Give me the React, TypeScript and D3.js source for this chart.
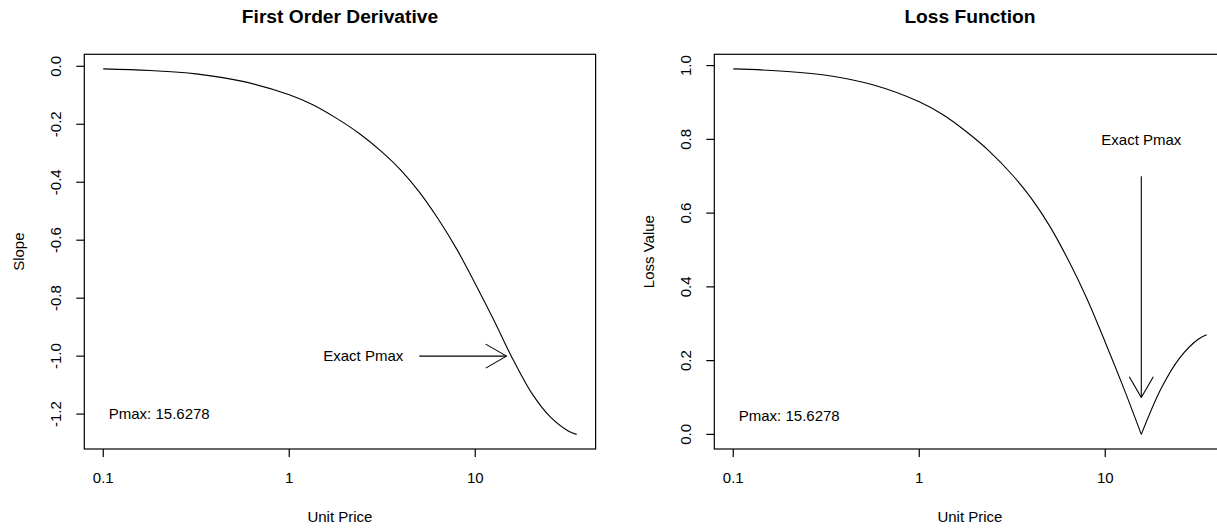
import React from "react";
import * as d3 from "d3";

// ---- data ----
const price = [0.1, 0.178, 0.316, 0.562, 1, 1.33, 1.78, 2.37, 3.16, 3.98, 5.01, 6.31, 7.94, 10, 12.6, 15.6278, 20, 25.1, 31.6, 35.1];
const slope = [-0.009, -0.0145, -0.026, -0.052, -0.098, -0.132, -0.178, -0.231, -0.296, -0.358, -0.434, -0.526, -0.63, -0.75, -0.876, -1.0, -1.125, -1.207, -1.258, -1.27];
const loss = [0.991, 0.9855, 0.974, 0.948, 0.902, 0.868, 0.822, 0.769, 0.704, 0.642, 0.566, 0.474, 0.37, 0.25, 0.124, 0.0, 0.125, 0.207, 0.258, 0.27];
const pmax = 15.6278;
const xTicks = [0.1, 1, 10];
const xTickLabels = ["0.1", "1", "10"];
const slopeTicks = [0, -0.2, -0.4, -0.6, -0.8, -1.0, -1.2];
const lossTicks = [0, 0.2, 0.4, 0.6, 0.8, 1.0];

const W = 1217;
const H = 529;
const FONT = "'Liberation Sans', Arial, sans-serif";

function extendLinear(lo: number, hi: number): [number, number] {
  const d = (hi - lo) * 0.04;
  return [lo - d, hi + d];
}
function extendLog(lo: number, hi: number): [number, number] {
  const a = Math.log10(lo), b = Math.log10(hi);
  const d = (b - a) * 0.04;
  return [Math.pow(10, a - d), Math.pow(10, b + d)];
}

type PanelProps = {
  x0: number;
  x1: number;
  title: string;
  yLabel: string;
  yValues: number[];
  yTicks: number[];
  yFmt: (v: number) => string;
  splitAtPmax: boolean;
  arrow: { from: [number, number]; to: [number, number] };
  arrowText: [number, number];
  pmaxText: [number, number];
};

const TOP = 54.3;
const BOTTOM = 449;

function Panel(p: PanelProps) {
  const x = d3.scaleLog().domain(extendLog(d3.min(price)!, d3.max(price)!)).range([p.x0, p.x1]);
  const y = d3
    .scaleLinear()
    .domain(extendLinear(d3.min(p.yValues)!, d3.max(p.yValues)!))
    .range([BOTTOM, TOP]);
  const pts: [number, number][] = price.map((v, i) => [x(v), y(p.yValues[i])]);
  const line = d3.line().curve(d3.curveCatmullRom.alpha(0.5));
  let paths: string[];
  if (p.splitAtPmax) {
    const k = price.indexOf(pmax);
    paths = [line(pts.slice(0, k + 1))!, line(pts.slice(k))!];
  } else {
    paths = [line(pts)!];
  }
  const ax = x(p.arrow.from[0]), ay = y(p.arrow.from[1]);
  const bx = x(p.arrow.to[0]), by = y(p.arrow.to[1]);
  const ang = Math.atan2(by - ay, bx - ax);
  const hl = 24;
  const h1 = [bx - hl * Math.cos(ang - Math.PI / 6), by - hl * Math.sin(ang - Math.PI / 6)];
  const h2 = [bx - hl * Math.cos(ang + Math.PI / 6), by - hl * Math.sin(ang + Math.PI / 6)];
  const midX = (p.x0 + p.x1) / 2;
  const midY = (TOP + BOTTOM) / 2;
  return (
    <g fontFamily={FONT} fill="#000">
      <text x={midX} y={16} dy="0.35em" textAnchor="middle" fontWeight="bold" fontSize={19.2}>
        {p.title}
      </text>
      <rect x={p.x0} y={TOP} width={p.x1 - p.x0} height={BOTTOM - TOP} fill="none" stroke="#000" strokeWidth={1.2} />
      {xTicks.map((t, i) => (
        <g key={"x" + i}>
          <line x1={x(t)} x2={x(t)} y1={BOTTOM} y2={BOTTOM + 8} stroke="#000" strokeWidth={1.2} />
          <text x={x(t)} y={478} dy="0.35em" textAnchor="middle" fontSize={15}>
            {xTickLabels[i]}
          </text>
        </g>
      ))}
      {p.yTicks.map((t, i) => (
        <g key={"y" + i}>
          <line x1={p.x0 - 8} x2={p.x0} y1={y(t)} y2={y(t)} stroke="#000" strokeWidth={1.2} />
          <text
            transform={`translate(${p.x0 - 28.5},${y(t)}) rotate(-90)`}
            dy="0.35em"
            textAnchor="middle"
            fontSize={15}
          >
            {p.yFmt(t)}
          </text>
        </g>
      ))}
      <text x={midX} y={516.5} dy="0.35em" textAnchor="middle" fontSize={15}>
        Unit Price
      </text>
      <text transform={`translate(${p.x0 - 66},${midY}) rotate(-90)`} dy="0.35em" textAnchor="middle" fontSize={15}>
        {p.yLabel}
      </text>
      {paths.map((d, i) => (
        <path key={"p" + i} d={d} fill="none" stroke="#000" strokeWidth={1.1} />
      ))}
      <line x1={ax} y1={ay} x2={bx} y2={by} stroke="#000" strokeWidth={1.1} />
      <line x1={bx} y1={by} x2={h1[0]} y2={h1[1]} stroke="#000" strokeWidth={1.1} />
      <line x1={bx} y1={by} x2={h2[0]} y2={h2[1]} stroke="#000" strokeWidth={1.1} />
      <text x={x(p.arrowText[0])} y={y(p.arrowText[1])} dy="0.35em" textAnchor="middle" fontSize={15}>
        Exact Pmax
      </text>
      <text x={x(p.pmaxText[0])} y={y(p.pmaxText[1])} dy="0.35em" textAnchor="middle" fontSize={15}>
        {"Pmax: " + pmax}
      </text>
    </g>
  );
}

export default function App() {
  return (
    <svg
      width={W}
      height={H}
      style={{ position: "absolute", left: 0, top: 0, background: "#fff" }}
    >
      <rect x={0} y={0} width={W} height={H} fill="#fff" />
      <Panel
        x0={84.3}
        x1={595.6}
        title="First Order Derivative"
        yLabel="Slope"
        yValues={slope}
        yTicks={slopeTicks}
        yFmt={(v) => d3.format(".1f")(v).replace("−", "-")}
        splitAtPmax={false}
        arrow={{ from: [5, -1.0], to: [pmax - 0.9, -1.0] }}
        arrowText={[2.5, -1.0]}
        pmaxText={[0.2, -1.2]}
      />
      <Panel
        x0={714.3}
        x1={1225.6}
        title="Loss Function"
        yLabel="Loss Value"
        yValues={loss}
        yTicks={lossTicks}
        yFmt={(v) => d3.format(".1f")(v)}
        splitAtPmax={true}
        arrow={{ from: [pmax, 0.7], to: [pmax, 0.1] }}
        arrowText={[pmax, 0.8]}
        pmaxText={[0.2, 0.05]}
      />
    </svg>
  );
}
